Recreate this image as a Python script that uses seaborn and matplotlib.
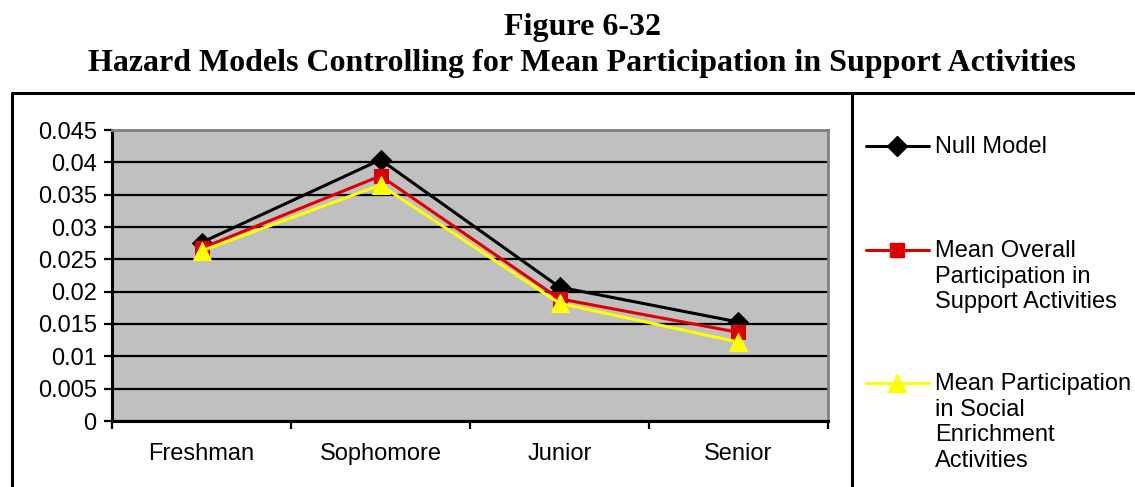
import matplotlib
matplotlib.use("Agg")
import matplotlib.pyplot as plt
from matplotlib.lines import Line2D
import seaborn as sns
import pandas as pd

categories = ["Freshman", "Sophomore", "Junior", "Senior"]
null_model = [0.0276, 0.0404, 0.0207, 0.0153]
mean_support = [0.0267, 0.0379, 0.0189, 0.0137]
mean_social = [0.0263, 0.0365, 0.0182, 0.0122]
series_names = [
    "Null Model",
    "Mean Overall\nParticipation in\nSupport Activities",
    "Mean Participation\nin Social\nEnrichment\nActivities",
]
y_ticks = [0, 0.005, 0.01, 0.015, 0.02, 0.025, 0.03, 0.035, 0.04, 0.045]
y_tick_labels = ["0", "0.005", "0.01", "0.015", "0.02", "0.025", "0.03", "0.035", "0.04", "0.045"]

sns.set_theme(style="white")
plt.rcParams["font.family"] = ["Liberation Sans", "DejaVu Sans"]
plt.rcParams["text.color"] = "black"
plt.rcParams["xtick.color"] = "black"
plt.rcParams["ytick.color"] = "black"
plt.rcParams["xtick.labelcolor"] = "black"
plt.rcParams["ytick.labelcolor"] = "black"

W, H = 1135, 487
fig = plt.figure(figsize=(W / 100, H / 100), dpi=100)
ax = fig.add_axes([112 / W, 1 - 421 / H, (828 - 112) / W, (421 - 130) / H])

df = pd.DataFrame({
    "year": categories * 3,
    "rate": null_model + mean_support + mean_social,
    "series": [series_names[0]] * 4 + [series_names[1]] * 4 + [series_names[2]] * 4,
})

colors = ["#000000", "#DD0000", "#FFFF00"]
markers = ["D", "s", "^"]
sizes = [10, 10, 13]
for name, c, m, ms in zip(series_names, colors, markers, sizes):
    sub = df[df["series"] == name]
    sns.lineplot(data=sub, x="year", y="rate", ax=ax, color=c, marker=m,
                 markersize=ms, markeredgecolor=c, linewidth=2.2, legend=False,
                 sort=False)

ax.set_facecolor("#C0C0C0")
ax.set_xlim(-0.5, 3.5)
ax.set_ylim(0, 0.045)
ax.set_yticks(y_ticks)
ax.set_yticklabels(y_tick_labels)
ax.set_xticks(range(len(categories)))
ax.set_xticklabels(categories)
ax.set_xlabel("")
ax.set_ylabel("")
ax.yaxis.grid(True, color="black", linewidth=1.6)
ax.xaxis.grid(False)
ax.set_axisbelow(True)

ax.tick_params(axis="y", direction="out", length=6, width=1.6, color="black",
               labelsize=17, pad=5, left=True)
ax.tick_params(axis="x", length=0, labelsize=17, pad=16, bottom=True)
# category-boundary tick marks below the x axis
ax.set_xticks([-0.5, 0.5, 1.5, 2.5, 3.5], minor=True)
ax.tick_params(axis="x", which="minor", direction="out", length=6, width=1.6,
               color="black", bottom=True)

for side in ["left", "bottom"]:
    ax.spines[side].set_color("black")
    ax.spines[side].set_linewidth(2.2)
for side in ["top", "right"]:
    ax.spines[side].set_color("#808080")
    ax.spines[side].set_linewidth(2)

# title
title_kw = dict(ha="center", va="center", fontsize=23, fontweight="bold",
                family=["Liberation Serif"], color="black")
fig.text(582 / W, 1 - 27 / H, "Figure 6-32", **title_kw)
fig.text(582 / W, 1 - 63 / H,
         "Hazard Models Controlling for Mean Participation in Support Activities",
         **title_kw)

# surrounding frame and legend divider
frame_kw = dict(color="black", linewidth=2.2, transform=fig.transFigure)
fig.add_artist(Line2D([12 / W, 1.0], [1 - 93 / H, 1 - 93 / H], **frame_kw))
fig.add_artist(Line2D([12 / W, 12 / W], [1 - 93 / H, 0], **frame_kw))
fig.add_artist(Line2D([852 / W, 852 / W], [1 - 93 / H, 0], **frame_kw))

# legend
legend_y = [146, 250, 383]
for name, c, m, ms, ly in zip(series_names, colors, markers, sizes, legend_y):
    yf = 1 - ly / H
    fig.add_artist(Line2D([866 / W, 929 / W], [yf, yf], color=c, linewidth=2.2,
                          transform=fig.transFigure))
    fig.add_artist(Line2D([897 / W], [yf], color=c, marker=m, markersize=ms,
                          markeredgecolor=c, linestyle="none",
                          transform=fig.transFigure))
    fig.text(935 / W, yf + 10 / H, name, ha="left", va="top", fontsize=17,
             linespacing=1.22, color="black")

fig.savefig("out.png", dpi=100, facecolor="white")
